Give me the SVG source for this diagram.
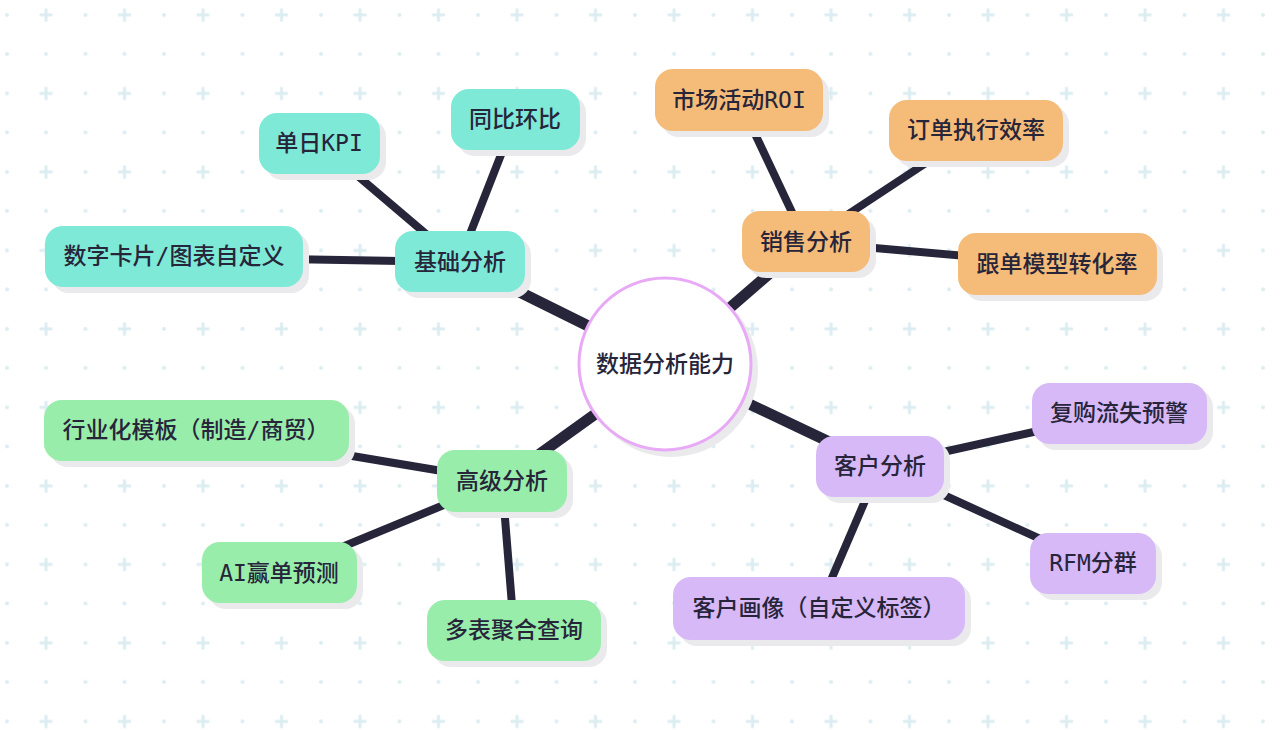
<svg xmlns="http://www.w3.org/2000/svg" width="1280" height="730" viewBox="0 0 1280 730">
<defs>
<pattern id="bg" patternUnits="userSpaceOnUse" x="0" y="0" width="78.5" height="78.5">
<circle cx="7" cy="15" r="2" fill="#dcedf2"/>
<circle cx="7" cy="54" r="2" fill="#dcedf2"/>
<circle cx="46" cy="54" r="2" fill="#dcedf2"/>
<path d="M39.5 15H52.5M46 8.5V21.5" stroke="#dcedf2" stroke-width="3"/>
</pattern>
<style>
.sh{fill:#eaeaec}
.t{fill:#7ee9d7}
.o{fill:#f5bb78}
.g{fill:#98edab}
.p{fill:#d7b9f8}
.lbl{font-family:"DejaVu Sans Mono","Noto Sans CJK SC",monospace;font-size:23px;font-weight:500;fill:#27253a;text-anchor:middle;dominant-baseline:central}
.main{stroke:#27253a;stroke-width:11;stroke-linecap:butt}
.leaf{stroke:#27253a;stroke-width:8;stroke-linecap:butt}
</style>
</defs>
<rect width="1280" height="730" fill="#ffffff"/>
<rect width="1280" height="730" fill="url(#bg)"/>
<g id="connectors">
<line class="main" x1="665" y1="364" x2="459" y2="262"/>
<line class="main" x1="665" y1="364" x2="806" y2="242"/>
<line class="main" x1="665" y1="364" x2="880" y2="466"/>
<line class="main" x1="665" y1="364" x2="502" y2="481"/>
<line class="leaf" x1="459" y1="262" x2="319" y2="143"/>
<line class="leaf" x1="459" y1="262" x2="515" y2="119"/>
<line class="leaf" x1="459" y1="262" x2="174" y2="257"/>
<line class="leaf" x1="806" y1="242" x2="739" y2="100"/>
<line class="leaf" x1="806" y1="242" x2="976" y2="130"/>
<line class="leaf" x1="806" y1="242" x2="1057" y2="264"/>
<line class="leaf" x1="880" y1="466" x2="1119" y2="413"/>
<line class="leaf" x1="880" y1="466" x2="1093" y2="563"/>
<line class="leaf" x1="880" y1="466" x2="819" y2="608"/>
<line class="leaf" x1="502" y1="481" x2="196" y2="430"/>
<line class="leaf" x1="502" y1="481" x2="279" y2="573"/>
<line class="leaf" x1="502" y1="481" x2="514" y2="630"/>
</g>
<g id="center">
<circle cx="671" cy="370" r="87" class="sh"/>
<circle cx="665" cy="364" r="86" fill="#ffffff" stroke="#e8a9f6" stroke-width="3"/>
<text class="lbl" x="665" y="364">数据分析能力</text>
</g>
<g id="n-jichu">
<rect x="401" y="237" width="130" height="61" rx="18" class="sh"/>
<rect x="395" y="231" width="130" height="61" rx="18" class="t"/>
<text class="lbl" x="460" y="262">基础分析</text>
</g>
<g id="n-danri">
<rect x="265" y="119" width="121" height="61" rx="18" class="sh"/>
<rect x="259" y="113" width="121" height="61" rx="18" class="t"/>
<text class="lbl" x="319" y="143">单日KPI</text>
</g>
<g id="n-tongbi">
<rect x="457" y="95" width="129" height="61" rx="18" class="sh"/>
<rect x="451" y="89" width="129" height="61" rx="18" class="t"/>
<text class="lbl" x="515" y="119">同比环比</text>
</g>
<g id="n-shuzi">
<rect x="51" y="232" width="258" height="61" rx="18" class="sh"/>
<rect x="45" y="226" width="258" height="61" rx="18" class="t"/>
<text class="lbl" x="174" y="256">数字卡片/图表自定义</text>
</g>
<g id="n-xiaoshou">
<rect x="748" y="217" width="128" height="61" rx="18" class="sh"/>
<rect x="742" y="211" width="128" height="61" rx="18" class="o"/>
<text class="lbl" x="806" y="242">销售分析</text>
</g>
<g id="n-shichang">
<rect x="661" y="75" width="168" height="62" rx="18" class="sh"/>
<rect x="655" y="69" width="168" height="62" rx="18" class="o"/>
<text class="lbl" x="739" y="100">市场活动ROI</text>
</g>
<g id="n-dingdan">
<rect x="895" y="106" width="174" height="61" rx="18" class="sh"/>
<rect x="889" y="100" width="174" height="61" rx="18" class="o"/>
<text class="lbl" x="976" y="130">订单执行效率</text>
</g>
<g id="n-gendan">
<rect x="964" y="239" width="199" height="62" rx="18" class="sh"/>
<rect x="958" y="233" width="199" height="62" rx="18" class="o"/>
<text class="lbl" x="1057" y="264">跟单模型转化率</text>
</g>
<g id="n-kehu">
<rect x="822" y="442" width="128" height="61" rx="18" class="sh"/>
<rect x="816" y="436" width="128" height="61" rx="18" class="p"/>
<text class="lbl" x="880" y="466">客户分析</text>
</g>
<g id="n-fugou">
<rect x="1038" y="389" width="175" height="61" rx="18" class="sh"/>
<rect x="1032" y="383" width="175" height="61" rx="18" class="p"/>
<text class="lbl" x="1119" y="413">复购流失预警</text>
</g>
<g id="n-rfm">
<rect x="1036" y="539" width="126" height="61" rx="18" class="sh"/>
<rect x="1030" y="533" width="126" height="61" rx="18" class="p"/>
<text class="lbl" x="1093" y="563">RFM分群</text>
</g>
<g id="n-huaxiang">
<rect x="679" y="583" width="292" height="63" rx="18" class="sh"/>
<rect x="673" y="577" width="292" height="63" rx="18" class="p"/>
<text class="lbl" x="819" y="608">客户画像（自定义标签）</text>
</g>
<g id="n-gaoji">
<rect x="443" y="456" width="130" height="62" rx="18" class="sh"/>
<rect x="437" y="450" width="130" height="62" rx="18" class="g"/>
<text class="lbl" x="502" y="481">高级分析</text>
</g>
<g id="n-hangye">
<rect x="50" y="406" width="305" height="61" rx="18" class="sh"/>
<rect x="44" y="400" width="305" height="61" rx="18" class="g"/>
<text class="lbl" x="196" y="430">行业化模板（制造/商贸）</text>
</g>
<g id="n-ai">
<rect x="208" y="548" width="155" height="61" rx="18" class="sh"/>
<rect x="202" y="542" width="155" height="61" rx="18" class="g"/>
<text class="lbl" x="279" y="573">AI赢单预测</text>
</g>
<g id="n-duobiao">
<rect x="433" y="606" width="174" height="61" rx="18" class="sh"/>
<rect x="427" y="600" width="174" height="61" rx="18" class="g"/>
<text class="lbl" x="514" y="630">多表聚合查询</text>
</g>
</svg>
